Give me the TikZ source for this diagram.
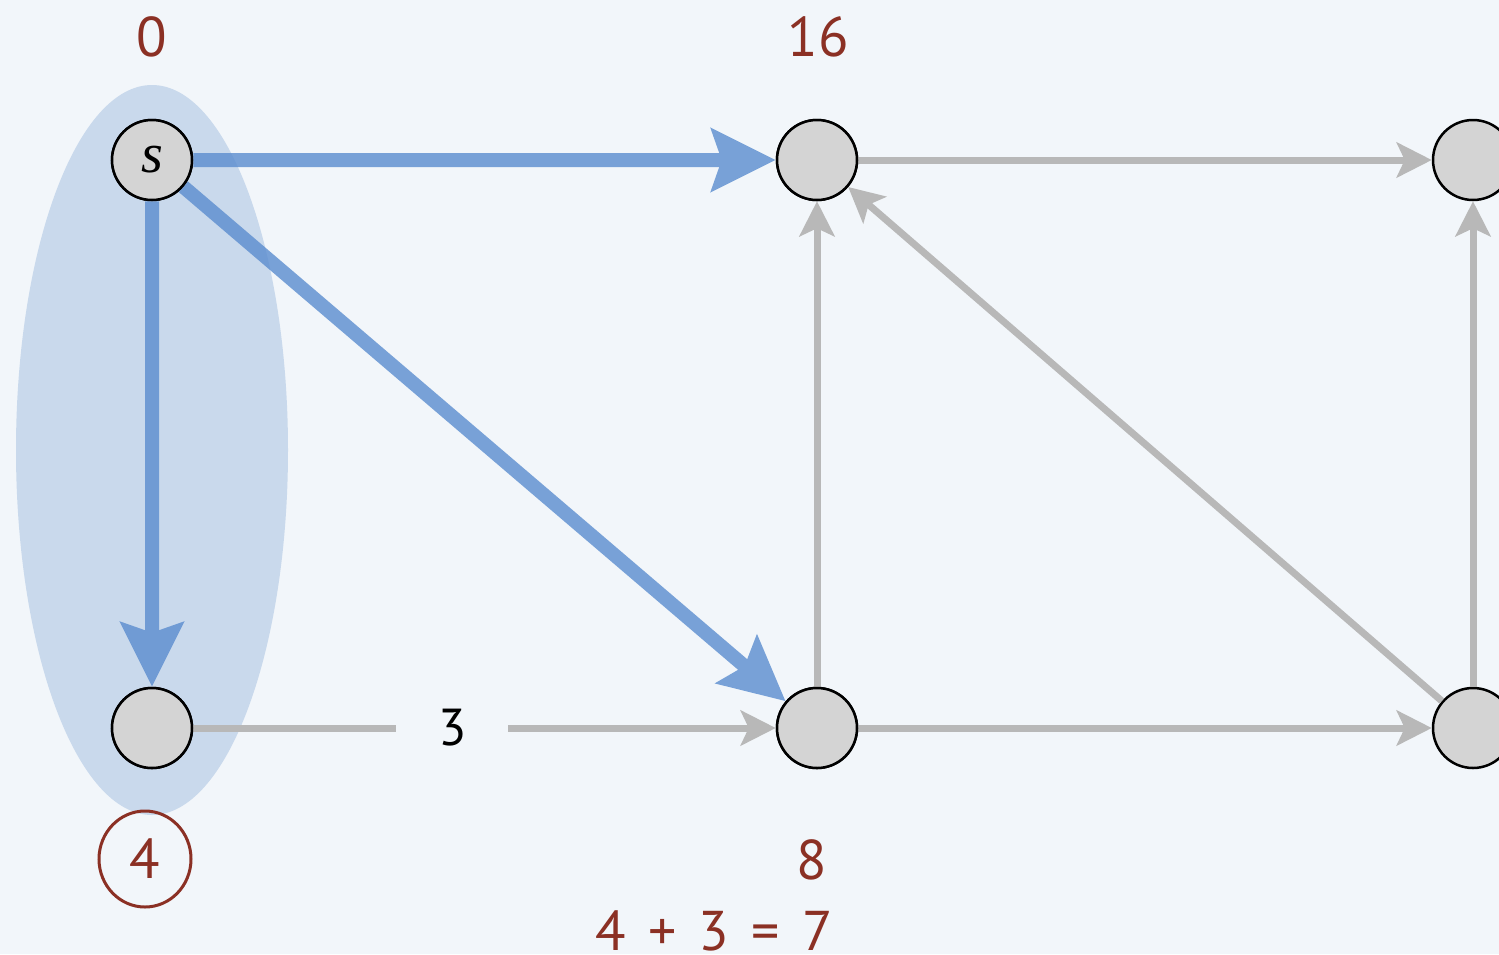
\documentclass[tikz,border=0pt]{standalone}
\usepackage{fontspec}
\setmainfont{PT Sans}
\newfontfamily\serifit{Liberation Serif}
\usetikzlibrary{arrows.meta,shapes.geometric}
\definecolor{bg}{HTML}{F2F6FA}
\definecolor{ellfill}{HTML}{C9D9EC}
\definecolor{bluee}{HTML}{5A8CCF}
\definecolor{graye}{HTML}{B8B8B8}
\definecolor{nodefill}{HTML}{D4D4D4}
\definecolor{redtxt}{HTML}{8B3024}
\tikzset{
  vert/.style={circle, draw=black, line width=2.5pt, fill=nodefill, minimum size=80pt, inner sep=0pt},
  blueedge/.style={draw=bluee, line width=14pt, -{Stealth[length=64pt, width=62pt, inset=10pt]}},
  grayedge/.style={draw=graye, line width=7pt, -{Stealth[length=35pt, width=35pt, inset=8pt]}},
  distlbl/.style={text=redtxt, font=\fontsize{56}{60}\selectfont, inner sep=0pt},
  wlbl/.style={text=black, font=\fontsize{52}{56}\selectfont, fill=bg, inner sep=0pt, minimum width=112pt, minimum height=40pt},
  slbl/.style={font=\serifit\itshape\fontsize{56}{60}\selectfont}
}
\begin{document}
\begin{tikzpicture}[x=1pt, y=-1pt]
\useasboundingbox (0,0) rectangle (1499,954);
\fill[bg] (0,0) rectangle (1499,954);
\clip (0,0) rectangle (1499,954);
\fill[ellfill] (152,450) ellipse [x radius=136, y radius=365];
% vertices
\node[vert] (s) at (152,160) {};
\node[vert] (tm) at (817,160) {};
\node[vert] (tr) at (1473,160) {};
\node[vert] (bl) at (152,728) {};
\node[vert] (bm) at (817,728) {};
\node[vert] (br) at (1473,728) {};
% gray edges
\draw[grayedge] (tm) -- (tr);
\draw[grayedge] (bm) -- (tm);
\draw[grayedge] (br) -- (tm);
\draw[grayedge] (br) -- (tr);
\draw[grayedge] (bm) -- (br);
\draw[grayedge] (bl) -- node[wlbl, pos=0.445] (w3) {3} (bm);
% blue edges
\begin{scope}[transparency group, opacity=0.8]
\draw[blueedge] (s) -- (tm);
\draw[blueedge] (s) -- (bl);
\draw[blueedge] (s) -- (bm);
\end{scope}
% redraw vertices on top
\node[vert, slbl] at (s) {s};
\node[vert] at (tm) {};
\node[vert] at (bl) {};
\node[vert] at (bm) {};
% labels
\node[distlbl] (d0) at (152,37) {0};
\node[distlbl] (d16) at (818,37) {16};
\node[distlbl] (d8) at (812,860) {8};
\node[distlbl, ellipse, draw=redtxt, line width=3pt, minimum width=92pt, minimum height=96pt] (d4) at (145,859) {4};
\node[distlbl] (sum) at (714,931) {4\hspace{0.4em}+\hspace{0.4em}3\hspace{0.4em}=\hspace{0.4em}7};
\end{tikzpicture}
\end{document}
